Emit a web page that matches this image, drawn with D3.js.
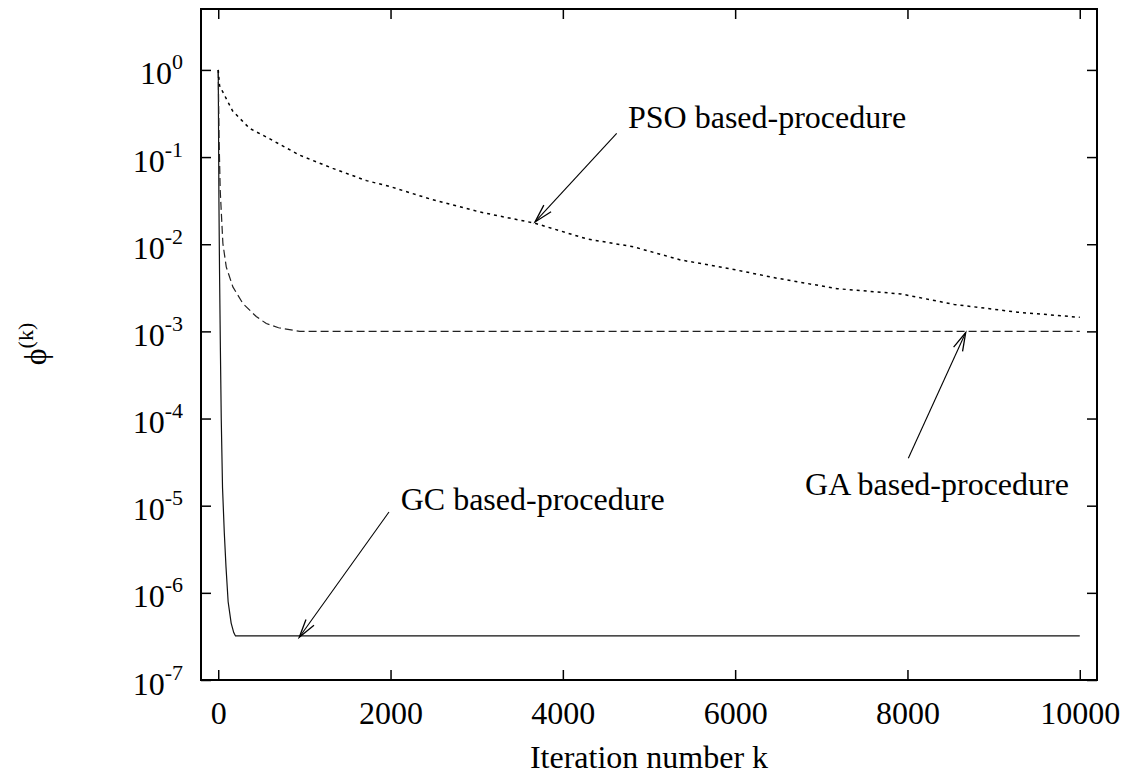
<!DOCTYPE html>
<html><head><meta charset="utf-8">
<script src="https://cdn.jsdelivr.net/npm/d3@7"></script>
<style>
body{margin:0;background:#fff}
svg{display:block}
text{font-family:"Liberation Serif","Times New Roman",Times,serif;fill:#000}
</style>
</head><body>
<svg id="chart" width="1133" height="781"></svg>
<script>
// ---- data ----
const xTickValues = [0, 2000, 4000, 6000, 8000, 10000];
const yTickExponents = [0, -1, -2, -3, -4, -5, -6, -7];

const gcIter = [0, 8, 15, 25, 35, 50, 70, 90, 115, 150, 180, 200, 10000];
const gcPhi  = [1, 3.2e-2, 5.0e-3, 6.3e-4, 1.0e-4, 1.6e-5, 5.0e-6, 2.0e-6, 7.9e-7, 4.5e-7, 3.5e-7, 3.2e-7, 3.2e-7];

const gaIter = [0, 10, 23, 54, 93, 170, 286, 441, 558, 700, 946, 10000];
const gaPhi  = [1, 0.158, 0.0417, 0.0102, 0.0055, 0.00324, 0.00209, 0.00148, 0.00123, 0.0011, 0.001, 0.001];

const psoIter = [0, 15, 166, 362, 558, 946, 1330, 1720, 2000, 2457, 3038, 3677, 4279, 4821, 5364, 5984, 6488, 7186, 7922, 8542, 9279, 10000];
const psoPhi  = [1, 0.661, 0.339, 0.214, 0.170, 0.105, 0.0741, 0.0537, 0.0457, 0.0331, 0.0234, 0.0174, 0.0115, 0.00933, 0.00661, 0.00513, 0.00407, 0.00309, 0.00269, 0.00204, 0.00166, 0.00145];

const annotLabels = ["PSO based-procedure", "GA based-procedure", "GC based-procedure"];
const annotTextIter = [4756, 6811, 2118];
const annotTextPhi  = [0.216, 1.32e-5, 8.9e-6];
const annotTailIter = [4625, 8010, 1982];
const annotTailPhi  = [0.1875, 3.5e-5, 8.46e-6];
const annotHeadIter = [3677, 8676, 941];
const annotHeadPhi  = [0.018, 0.00097, 3.09e-7];

const xLabel = "Iteration number k";

// ---- layout ----
const L = 201, R = 1097, T = 9, B = 680;
const x = d3.scaleLinear().domain([-200, 10200]).range([L, R]);
const y = d3.scaleLog().domain([1e-7, 5]).range([B, T]);
const svg = d3.select("#chart");
const FS = 32, SUP = 22;

const yTickValues = yTickExponents.map(e => Math.pow(10, e));

function styleAxis(g) {
  g.select(".domain").remove();
  g.selectAll(".tick line").attr("stroke", "#000").attr("stroke-width", 1.5);
}

// bottom
const gB = svg.append("g").attr("transform", `translate(0,${B})`)
  .call(d3.axisBottom(x).tickValues(xTickValues).tickSizeInner(-10).tickSizeOuter(0).tickFormat(d3.format("d")))
  .call(styleAxis);
gB.selectAll(".tick text").attr("y", 44).attr("dy", null)
  .attr("font-size", FS).attr("font-family", null).attr("fill", "#000");
// top
svg.append("g").attr("transform", `translate(0,${T})`)
  .call(d3.axisTop(x).tickValues(xTickValues).tickSizeInner(-10).tickSizeOuter(0).tickFormat(""))
  .call(styleAxis);
// left
const gL = svg.append("g").attr("transform", `translate(${L},0)`)
  .call(d3.axisLeft(y).tickValues(yTickValues).tickSizeInner(-10).tickSizeOuter(0).tickFormat(""))
  .call(styleAxis);
gL.selectAll(".tick").each(function(d, i) {
  const t = d3.select(this).select("text");
  t.attr("x", 183 - L).attr("dy", null).attr("y", 14)
   .attr("text-anchor", "end").attr("font-size", FS).attr("font-family", null).attr("fill", "#000").text(null);
  t.append("tspan").text("10");
  t.append("tspan").attr("dy", -15).attr("font-size", SUP).text(String(yTickExponents[i]));
});
// right
svg.append("g").attr("transform", `translate(${R},0)`)
  .call(d3.axisRight(y).tickValues(yTickValues).tickSizeInner(-10).tickSizeOuter(0).tickFormat(""))
  .call(styleAxis);

// frame
svg.append("rect").attr("x", L).attr("y", T).attr("width", R - L).attr("height", B - T)
  .attr("fill", "none").attr("stroke", "#000").attr("stroke-width", 2);

// series
const line = d3.line().x(d => x(d[0])).y(d => y(d[1]));
const series = [
  {it: gcIter, v: gcPhi, dash: null, color: "#111", w: 1.2},
  {it: gaIter, v: gaPhi, dash: "8,4", color: "#222", w: 1.2},
  {it: psoIter, v: psoPhi, dash: "3,4", color: "#000", w: 1.5}
];
series.forEach(s => {
  svg.append("path").datum(s.it.map((k, i) => [k, s.v[i]]))
    .attr("d", line).attr("fill", "none").attr("stroke", s.color)
    .attr("stroke-width", s.w).attr("stroke-dasharray", s.dash);
});

// annotations
annotLabels.forEach((lab, i) => {
  const hx = x(annotHeadIter[i]), hy = y(annotHeadPhi[i]);
  const tx = x(annotTailIter[i]), ty = y(annotTailPhi[i]);
  svg.append("line").attr("x1", tx).attr("y1", ty).attr("x2", hx).attr("y2", hy)
    .attr("stroke", "#000").attr("stroke-width", 1.1);
  const ang = Math.atan2(ty - hy, tx - hx);
  const len = 19, spread = 15 * Math.PI / 180;
  const p = [ang - spread, ang + spread].map(a => [hx + len * Math.cos(a), hy + len * Math.sin(a)]);
  svg.append("path").attr("d", `M${p[0][0]},${p[0][1]}L${hx},${hy}L${p[1][0]},${p[1][1]}`)
    .attr("fill", "none").attr("stroke", "#000").attr("stroke-width", 1.3);
  svg.append("text").attr("x", x(annotTextIter[i])).attr("y", y(annotTextPhi[i]))
    .attr("font-size", FS).text(lab);
});

// axis titles
svg.append("text").attr("x", (L + R) / 2).attr("y", 768).attr("text-anchor", "middle")
  .attr("font-size", FS).text(xLabel);
const yl = svg.append("text").attr("transform", "translate(46,344) rotate(-90)")
  .attr("text-anchor", "middle").attr("font-size", FS);
yl.append("tspan").text("\u03D5");
yl.append("tspan").attr("dy", -13).attr("font-size", SUP).text("(k)");
</script>
</body></html>
